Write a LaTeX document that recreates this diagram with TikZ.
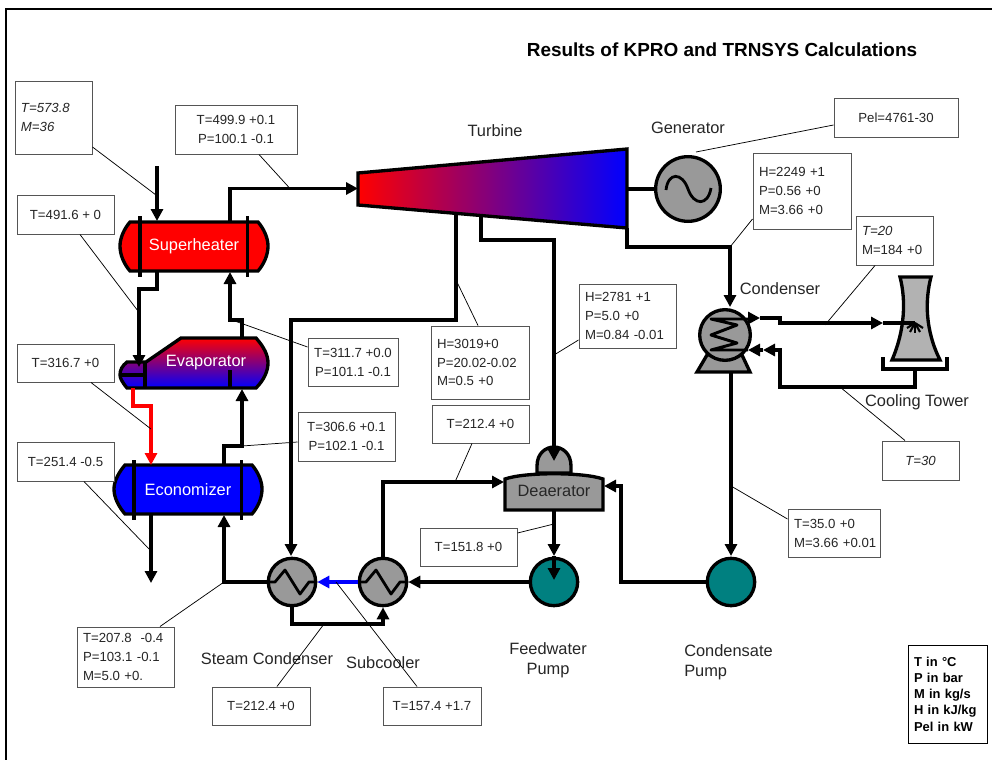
\documentclass[tikz,border=0pt]{standalone}
\usepackage{fontspec}
\setmainfont{Liberation Sans}
\usetikzlibrary{arrows.meta,calc}
\newcommand{\ux}{0.75pt}
\definecolor{boxline}{HTML}{555555}
\definecolor{teal1}{HTML}{008080}
\definecolor{steel}{HTML}{999999}
\definecolor{towergray}{HTML}{B2B2B2}
\tikzset{
  databox/.style={draw=boxline,line width=0.75pt,fill=white,inner sep=0pt,font=\fontsize{9.9}{14.2}\selectfont,text=black!85},
  pipe/.style={draw=black,line width=2.5pt,line join=miter},
  flow/.style={pipe,-{Triangle[length=9pt,width=9pt]}},
  lead/.style={draw=black,line width=0.55pt},
  equip/.style={draw=black,line width=2.5pt},
  hx/.style={circle,equip,fill=steel,minimum size=35.5pt,inner sep=0pt},
  pump/.style={circle,equip,fill=teal1,minimum size=35.5pt,inner sep=0pt},
  lab/.style={font=\fontsize{12.3}{15}\selectfont,text=black!85,inner sep=0pt,align=center},
  white lab/.style={font=\fontsize{12.3}{14}\selectfont,text=white,inner sep=0pt},
}
\newcommand{\databx}[6]{\node[databox,align=center,minimum width={(#4-#2)*0.75pt},minimum height={(#5-#3)*0.75pt}] (#1) at ({(#2+#4)/2},{(#3+#5)/2}) {#6};}
\newcommand{\databxl}[6]{\node[databox,align=left,inner xsep=4.5pt,text width={(#4-#2-12)*0.75pt},minimum width={(#4-#2)*0.75pt},minimum height={(#5-#3)*0.75pt}] (#1) at ({(#2+#4)/2},{(#3+#5)/2}) {#6};}
\begin{document}
\begin{tikzpicture}[x=0.75pt,y=-0.75pt]
\useasboundingbox (0,0) rectangle (992,760);
\fill[white] (0,0) rectangle (992,760);
% frame
\coordinate (fa) at (6,760); \coordinate (fb) at (6,9); \coordinate (fc) at (992,9);
\draw[line width=0.9pt] (fa) -- (fb) -- (fc);
% title
\node[inner sep=0pt,font=\bfseries\fontsize{14.2}{16}\selectfont] (title) at (722,50) {Results of KPRO and TRNSYS Calculations};
% turbine
\path[equip,draw,left color=red,right color=blue] (358,173) -- (627,149) -- (627,228) -- (358,205) -- cycle;
% generator
\node[circle,equip,fill=steel,minimum size=48.5pt,inner sep=0pt] (gen) at (688,189) {};
\draw[line width=2.1pt] (666,190) .. controls (668,172) and (682,172) .. (688,189) .. controls (694,206) and (708,206) .. (711,188);
% superheater
\path[equip,draw,fill=red] (130,222) -- (258,222) .. controls (264,229) and (268,238) .. (268,246) .. controls (268,255) and (264,264) .. (258,271) -- (130,271) .. controls (124,264) and (120,255) .. (120,246) .. controls (120,238) and (124,229) .. (130,222) -- cycle;
\draw[line width=2.4pt] (140,216) -- (140,277) (247.5,216) -- (247.5,277);
\node[white lab] (shl) at (194,246) {Superheater};
% evaporator
\path[equip,draw,top color=red,bottom color=blue] (127,388) .. controls (122,382) and (120,378) .. (120,375) .. controls (120,370) and (122,366) .. (127,362) -- (146,362) -- (181,338) -- (256,338) .. controls (264,347) and (268,355) .. (268,363) .. controls (268,371) and (264,380) .. (256,388) -- cycle;
\draw[line width=2.4pt] (145,362) -- (145,388) (121,375) -- (145,375) (230,370) -- (230,388);
\node[white lab] (evl) at (206,363) {Evaporator};
% economizer
\path[equip,draw,fill=blue] (125,465) -- (252,465) .. controls (258,472) and (262,481) .. (262,489) .. controls (262,498) and (258,507) .. (252,514) -- (125,514) .. controls (119,507) and (114,498) .. (114,489) .. controls (114,481) and (119,472) .. (125,465) -- cycle;
\draw[line width=2.4pt] (134,460) -- (134,520) (241.5,460) -- (241.5,520);
\node[white lab] (ecl) at (188,490) {Economizer};
% deaerator
\path[equip,draw,fill=steel] (537,473) -- (537,466) .. controls (537,453) and (546,447) .. (554,447) .. controls (562,447) and (571,453) .. (571,466) -- (571,473) -- cycle;
\path[equip,draw,fill=steel] (505,510) -- (505,479) .. controls (525,472) and (583,472) .. (603,479) -- (603,510) -- cycle;
\node[lab] (dea) at (554,491) {Deaerator};
% heat exchangers and pumps
\node[hx] (sc) at (292,582) {};
\node[hx] (sub) at (383,582) {};
\node[pump] (fwp) at (554,582) {};
\node[pump] (cp) at (731,582) {};
\foreach \n in {sc,sub}{
  \draw[line width=2.1pt,line join=round] ($(\n)+(-25,0)$) -- ++(8,0) -- ++(10,-12) -- ++(15,24) -- ++(9,-12) -- ++(8,0);
}
% condenser
\path[equip,draw,fill=steel] (707,355) -- (697,372) -- (750,372) -- (742,355) -- cycle;
\node[circle,equip,fill=steel,minimum size=38pt,inner sep=0pt] (cond) at (725,335) {};
\draw[line width=2.2pt,line join=round] (748,319) -- (711,319) -- (737,325) -- (711,335) -- (737,343) -- (711,350) -- (748,350);
% cooling tower
\path[equip,draw,fill=towergray] (900,277) -- (931,277) .. controls (925,300) and (925,330) .. (940,360) -- (892,360) .. controls (905,330) and (906,300) .. (900,277) -- cycle;
\coordinate (basinA) at (883,357); \coordinate (basinB) at (883,369); \coordinate (basinC) at (947,369); \coordinate (basinD) at (947,357);
\draw[pipe] (basinA) -- (basinB) -- (basinC) -- (basinD);
\coordinate (spray) at (915,323);
\foreach \dx/\dy in {-8/5,-5/9,0/10,5/9,8/5}{\draw[line width=1.6pt] (spray) -- ++(\dx,\dy);}
% pipe ports
\coordinate (in) at (157,166); \coordinate (shT) at (157,221);
\coordinate (shO) at (230,221); \coordinate (shO2) at (230,188.5); \coordinate (tIn) at (358,188.5);
\coordinate (shB) at (157,271); \coordinate (shB2) at (157,289); \coordinate (shB3) at (139,289); \coordinate (evT) at (139,367);
\coordinate (evO) at (242,338); \coordinate (evO2) at (242,320); \coordinate (evO3) at (230,320); \coordinate (shI) at (230,272);
\coordinate (ecO) at (224,465); \coordinate (ecO2) at (224,446); \coordinate (ecO3) at (242,446); \coordinate (evI) at (242,389);
\coordinate (rA) at (133,388); \coordinate (rB) at (133,406); \coordinate (rC) at (151,406); \coordinate (rD) at (151,465);
\coordinate (ecB) at (151,514); \coordinate (ecE) at (151,583);
\coordinate (t1) at (456,214); \coordinate (t1b) at (456,320); \coordinate (t1c) at (291,320); \coordinate (t1d) at (291,556);
\coordinate (t2) at (481,217); \coordinate (t2b) at (481,240); \coordinate (t2c) at (554,240); \coordinate (t2d) at (554,461);
\coordinate (t3) at (627,228); \coordinate (t3b) at (627,247); \coordinate (t3c) at (730,247); \coordinate (t3d) at (730,307);
\coordinate (shaft) at (627,189);
\coordinate (cO0) at (748,318); \coordinate (cO) at (760,318); \coordinate (cO1) at (780,318); \coordinate (cO2) at (780,323); \coordinate (cO3) at (883,323); \coordinate (cO4) at (915,323);
\coordinate (ret0) at (915,369); \coordinate (ret1) at (915,387); \coordinate (ret2) at (780,387); \coordinate (ret3) at (780,350); \coordinate (ret4) at (763,350); \coordinate (ret5) at (748,350);
\coordinate (cdB) at (731,372); \coordinate (cdE) at (731,556);
\coordinate (cp1) at (621,582); \coordinate (cp2) at (621,486); \coordinate (deR) at (604,486);
\coordinate (subT) at (383,482); \coordinate (deL) at (504,482);
\coordinate (deB) at (554,510); \coordinate (fwT) at (554,556); \coordinate (fwC) at (554,580);
\coordinate (scL) at (224,582); \coordinate (ecI) at (224,515);
\coordinate (scB) at (292,624); \coordinate (subB) at (383,624);
% pipes
\draw[flow] (in) -- (shT);
\draw[flow] (shO) -- (shO2) -- (tIn);
\draw[flow] (shB) -- (shB2) -- (shB3) -- (evT);
\draw[flow] (evO) -- (evO2) -- (evO3) -- (shI);
\draw[flow] (ecO) -- (ecO2) -- (ecO3) -- (evI);
\draw[flow,draw=red,-{Triangle[length=9pt,width=9pt,fill=red]}] (rA) -- (rB) -- (rC) -- (rD);
\draw[flow] (ecB) -- (ecE);
\draw[flow] (t1) -- (t1b) -- (t1c) -- (t1d);
\draw[flow] (t2) -- (t2b) -- (t2c) -- (t2d);
\draw[flow] (t3) -- (t3b) -- (t3c) -- (t3d);
\draw[pipe] (shaft) -- (gen.west);
\draw[flow] (cO0) -- (cO);
\draw[flow] (cO) -- (cO1) -- (cO2) -- (cO3);
\draw[pipe] (cO3) -- (cO4);
\draw[flow] (ret0) -- (ret1) -- (ret2) -- (ret3) -- (ret4);
\draw[flow] (ret4) -- (ret5);
\draw[flow] (cdB) -- (cdE);
\draw[flow] (cp.west) -- (cp1) -- (cp2) -- (deR);
\draw[flow] (sub.north) -- (subT) -- (deL);
\draw[flow] (deB) -- (fwT);
\draw[flow] (fwT) -- (fwC);
\draw[flow] (fwp.west) -- (sub.east);
\draw[flow,draw=blue,-{Triangle[length=9pt,width=9pt,fill=blue]}] (sub.west) -- (sc.east);
\draw[flow] (sc.west) -- (scL) -- (ecI);
\draw[flow] (sc.south) -- (scB) -- (subB) -- (sub.south);
% text labels
\node[lab] (lt) at (495,131) {Turbine};
\node[lab] (lg) at (688,128) {Generator};
\node[lab] (lc) at (780,289) {Condenser};
\node[lab] (lct) at (917,402) {Cooling Tower};
\node[lab] (lsc) at (267,659) {Steam Condenser};
\node[lab] (lsub) at (383,663) {Subcooler};
\node[lab] (lfw) at (548,660) {Feedwater\\Pump};
\node[lab,align=left,anchor=west] (lcp) at (684,662) {Condensate\\Pump};
% leader targets
\coordinate (j1) at (156,195);
\coordinate (j2) at (290,188.5);
\coordinate (j3) at (138,311);
\coordinate (j4) at (151,429);
\coordinate (j5) at (150,550);
\coordinate (j6) at (232,320);
\coordinate (j7) at (242,446);
\coordinate (j8) at (456,280);
\coordinate (j9) at (554,355);
\coordinate (j10) at (455,482);
\coordinate (j11) at (554,524);
\coordinate (j12) at (224,582);
\coordinate (j13) at (324,624);
\coordinate (j14) at (336,582);
\coordinate (j15) at (731,486);
\coordinate (j16) at (840,387);
\coordinate (j17) at (825,325);
\coordinate (j18) at (730,247);
\coordinate (j19) at (696,152);
% data boxes
\databxl{b1}{15}{81}{92}{154}{\textit{T=573.8}\\\textit{M=36}}
\databx{b2}{175}{105}{297}{154}{T=499.9 +0.1\\P=100.1 -0.1}
\databx{b3}{17}{195}{114}{234}{T=491.6 + 0}
\databx{b4}{17}{344}{114}{382}{T=316.7 +0}
\databx{b5}{17}{442}{114}{481}{T=251.4 -0.5}
\databx{b6}{308}{338}{398}{386}{T=311.7 +0.0\\P=101.1 -0.1}
\databx{b7}{298}{412}{395}{461}{T=306.6 +0.1\\P=102.1 -0.1}
\databxl{b8}{431}{326}{529}{399}{H=3019+0\\P=20.02-0.02\\M=0.5 +0}
\databxl{b9}{579}{284}{676}{348}{H=2781 +1\\P=5.0 +0\\M=0.84 -0.01}
\databx{b10}{432}{405}{529}{443}{T=212.4 +0}
\databx{b11}{420}{528}{517}{566}{T=151.8 +0}
\databxl{b12}{77}{627}{174}{687}{T=207.8 \ -0.4\\P=103.1 -0.1\\M=5.0 +0.}
\databx{b13}{212}{687}{310}{725}{T=212.4 +0}
\databx{b14}{383}{687}{481}{725}{T=157.4 +1.7}
\databxl{b15}{788}{509}{880}{557}{T=35.0 +0\\\mbox{M=3.66 +0.01}}
\databx{b16}{882}{441}{959}{480}{\textit{T=30}}
\databxl{b17}{856}{216}{933}{265}{\textit{T=20}\\M=184 +0}
\databxl{b18}{753}{153}{851}{229}{H=2249 +1\\P=0.56 +0\\M=3.66 +0}
\databx{b19}{834}{98}{958}{137}{Pel=4761-30}
\node[draw=black,line width=0.75pt,fill=white,inner sep=0pt,align=left,font=\bfseries\fontsize{9.7}{12.2}\selectfont,inner xsep=4pt,text width={67*0.75pt},minimum width={79*0.75pt},minimum height={98*0.75pt}] (legend) at (947.5,694) {T in °C\\P in bar\\M in kg/s\\H in kJ/kg\\Pel in kW};
% leaders
\draw[lead] ([yshift=-29.5*\ux]b1.east) -- (j1);
\draw[lead] ([xshift=23*\ux]b2.south) -- (j2);
\draw[lead] ([xshift=14.5*\ux]b3.south) -- (j3);
\draw[lead] ([xshift=25.5*\ux]b4.south) -- (j4);
\draw[lead] ([xshift=18.5*\ux]b5.south) -- (j5);
\draw[lead] ([yshift=15*\ux]b6.west) -- (j6);
\draw[lead] ([yshift=-5.5*\ux]b7.west) -- (j7);
\draw[lead] ([xshift=-2*\ux]b8.north) -- (j8);
\draw[lead] ([yshift=-24*\ux]b9.west) -- (j9);
\draw[lead] ([xshift=-8.5*\ux]b10.south) -- (j10);
\draw[lead] ([yshift=14*\ux]b11.east) -- (j11);
\draw[lead] ([xshift=34.5*\ux]b12.north) -- (j12);
\draw[lead] ([xshift=16*\ux]b13.north) -- (j13);
\draw[lead] ([xshift=-15*\ux]b14.north) -- (j14);
\draw[lead] ([yshift=14*\ux]b15.west) -- (j15);
\draw[lead] ([xshift=-15.5*\ux]b16.north) -- (j16);
\draw[lead] ([xshift=-19.5*\ux]b17.south) -- (j17);
\draw[lead] ([yshift=-28*\ux]b18.west) -- (j18);
\draw[lead] ([yshift=-7.5*\ux]b19.west) -- (j19);
\end{tikzpicture}
\end{document}
